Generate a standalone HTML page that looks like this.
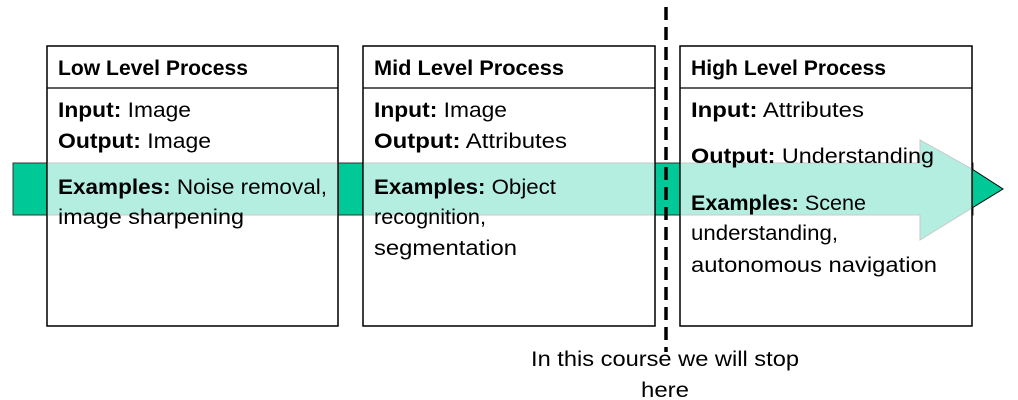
<!DOCTYPE html>
<html><head><meta charset="utf-8"><style>body{margin:0;background:#fff}svg{display:block}text{font-family:"Liberation Sans",sans-serif;font-size:21px;fill:#000}</style></head>
<body>
<svg width="1018" height="400" xmlns="http://www.w3.org/2000/svg">
<rect x="13" y="163" width="960" height="52" fill="#00c896" stroke="#333" stroke-width="1"/>
<polygon points="972,169 1003,189 972,208" fill="#00c896" stroke="#000" stroke-width="1"/>
<g fill="#fff" stroke="#000" stroke-width="1.3">
<rect x="47" y="46" width="291" height="280"/>
<rect x="363" y="46" width="292" height="280"/>
<rect x="680" y="46" width="292" height="280"/>
</g>
<g stroke="#000" stroke-width="1.3">
<line x1="47" y1="88" x2="338" y2="88"/><line x1="363" y1="88" x2="655" y2="88"/><line x1="680" y1="88" x2="972" y2="88"/>
</g>
<g fill="#b3eee0" stroke="#c8c8c8" stroke-width="1">
<rect x="47.5" y="163" width="290" height="52"/>
<rect x="363.5" y="163" width="291" height="52"/>
<polygon points="680.5,163 920,163 920,140 972,169 972,208 920,240 920,215 680.5,215"/>
</g>
<g stroke="#000" stroke-width="1.3" fill="none">
<rect x="47" y="46" width="291" height="280"/>
<rect x="363" y="46" width="292" height="280"/>
<rect x="680" y="46" width="292" height="280"/>
</g>
<line x1="666" y1="7" x2="666" y2="352" stroke="#000" stroke-width="3.5" stroke-dasharray="13,7"/>
<g lengthAdjust="spacingAndGlyphs">
<text x="58" y="75" font-weight="bold" textLength="190" lengthAdjust="spacingAndGlyphs">Low Level Process</text>
<text x="58" y="117" textLength="133" lengthAdjust="spacingAndGlyphs"><tspan font-weight="bold">Input:</tspan> Image</text>
<text x="58" y="148" textLength="153" lengthAdjust="spacingAndGlyphs"><tspan font-weight="bold">Output:</tspan> Image</text>
<text x="58" y="194" textLength="269" lengthAdjust="spacingAndGlyphs"><tspan font-weight="bold">Examples:</tspan> Noise removal,</text>
<text x="58" y="224" textLength="186" lengthAdjust="spacingAndGlyphs">image sharpening</text>
<text x="374" y="75" font-weight="bold" textLength="190" lengthAdjust="spacingAndGlyphs">Mid Level Process</text>
<text x="374" y="117" textLength="133" lengthAdjust="spacingAndGlyphs"><tspan font-weight="bold">Input:</tspan> Image</text>
<text x="374" y="148" textLength="193" lengthAdjust="spacingAndGlyphs"><tspan font-weight="bold">Output:</tspan> Attributes</text>
<text x="374" y="194" textLength="182" lengthAdjust="spacingAndGlyphs"><tspan font-weight="bold">Examples:</tspan> Object</text>
<text x="374" y="224" textLength="112" lengthAdjust="spacingAndGlyphs">recognition,</text>
<text x="374" y="255" textLength="143" lengthAdjust="spacingAndGlyphs">segmentation</text>
<text x="691" y="75" font-weight="bold" textLength="195" lengthAdjust="spacingAndGlyphs">High Level Process</text>
<text x="691" y="117" textLength="173" lengthAdjust="spacingAndGlyphs"><tspan font-weight="bold">Input:</tspan> Attributes</text>
<text x="691" y="163" textLength="243" lengthAdjust="spacingAndGlyphs"><tspan font-weight="bold">Output:</tspan> Understanding</text>
<text x="691" y="210" textLength="175" lengthAdjust="spacingAndGlyphs"><tspan font-weight="bold">Examples:</tspan> Scene</text>
<text x="691" y="240" textLength="147" lengthAdjust="spacingAndGlyphs">understanding,</text>
<text x="691" y="272" textLength="246" lengthAdjust="spacingAndGlyphs">autonomous navigation</text>
<text x="531" y="366" textLength="268" lengthAdjust="spacingAndGlyphs">In this course we will stop</text>
<text x="641" y="397" textLength="48" lengthAdjust="spacingAndGlyphs">here</text>
</g>
</svg>
</body></html>
